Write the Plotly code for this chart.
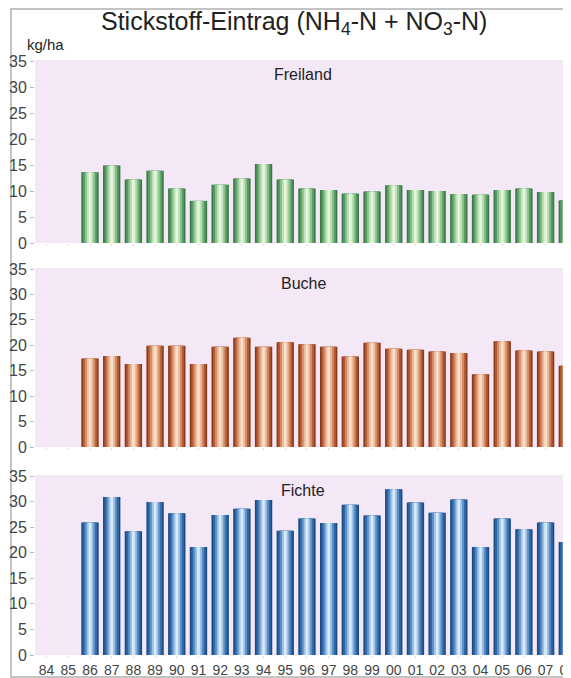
import plotly.graph_objects as go
from plotly.subplots import make_subplots

years = ['84', '85', '86', '87', '88', '89', '90', '91', '92', '93', '94', '95', '96',
         '97', '98', '99', '00', '01', '02', '03', '04', '05', '06', '07', '08']

freiland = [None, None, 13.6, 14.9, 12.2, 13.9, 10.5, 8.1, 11.2, 12.4, 15.2, 12.2, 10.5,
            10.2, 9.5, 9.9, 11.1, 10.2, 10.0, 9.4, 9.3, 10.2, 10.5, 9.8, 8.2]
buche = [None, None, 17.4, 17.9, 16.3, 19.9, 19.9, 16.3, 19.7, 21.5, 19.7, 20.6, 20.2,
         19.7, 17.8, 20.5, 19.3, 19.1, 18.8, 18.5, 14.3, 20.8, 19.0, 18.8, 16.0]
fichte = [None, None, 25.9, 30.9, 24.2, 29.9, 27.7, 21.1, 27.4, 28.6, 30.3, 24.3, 26.7,
          25.8, 29.4, 27.3, 32.4, 29.8, 27.8, 30.4, 21.1, 26.7, 24.6, 25.9, 22.1]

panel_names = ['Freiland', 'Buche', 'Fichte']
panel_data = [freiland, buche, fichte]
panel_shades = [
    ['#3a7847', '#579a63', '#88c08b', '#bde0b7', '#e6f6de'],
    ['#8a381a', '#b35b35', '#d48a62', '#ecbb9b', '#f8e0cc'],
    ['#1b4a82', '#2f68a5', '#5b8fc8', '#9ec2e6', '#dcebf8'],
]
layer_widths = [0.8, 0.66, 0.48, 0.3, 0.12]

# the page body adds an 8px offset, so the figure is drawn 8px smaller
OFF = 8
W, H = 571 - OFF, 678 - OFF
L = 35 - OFF
fig = make_subplots(rows=3, cols=1, shared_xaxes=False, vertical_spacing=0.03)

# pixel rows of each panel (top, bottom) in figure coordinates
panel_px = [(60 - OFF, 243 - OFF), (268 - OFF, 447 - OFF), (475 - OFF, 655 - OFF)]

for r, (vals, shades) in enumerate(zip(panel_data, panel_shades), start=1):
    for w, c in zip(layer_widths, shades):
        fig.add_trace(go.Bar(x=years, y=vals, width=w, marker=dict(color=c, line=dict(width=0)),
                             showlegend=False, hoverinfo='skip'), row=r, col=1)

fig.update_layout(barmode='overlay', width=W, height=H,
                  margin=dict(l=L, r=0, t=0, b=0, autoexpand=False),
                  paper_bgcolor='white', plot_bgcolor='#f4e8f7',
                  font=dict(family='Liberation Sans, Arial, sans-serif', color='#333'))

for i, (top, bot) in enumerate(panel_px):
    n = i + 1
    ykey = 'yaxis' if n == 1 else f'yaxis{n}'
    xkey = 'xaxis' if n == 1 else f'xaxis{n}'
    fig.layout[ykey].update(domain=[1 - bot / H, 1 - top / H], range=[0, 35.2],
                            tickvals=[0, 5, 10, 15, 20, 25, 30, 35], showgrid=False,
                            zeroline=False, showline=False, ticks='outside', ticklen=4,
                            tickcolor='#bbbbbb', automargin=False,
                            tickfont=dict(size=16, color='#444'))
    fig.layout[xkey].update(type='category', range=[-0.535, 24.17], showgrid=False,
                            zeroline=False, showline=False, ticks='outside', ticklen=2,
                            tickcolor='#dddddd', automargin=False,
                            showticklabels=(n == 3),
                            tickfont=dict(size=14, color='#444',
                                          family='Liberation Sans Narrow, Arial Narrow, Liberation Sans, sans-serif'))
    fig.add_annotation(text=panel_names[i], x=0.5, xref='paper',
                       y=1 - (top + 15) / H, yref='paper', showarrow=False,
                       font=dict(size=16, color='#222'), xanchor='center', yanchor='middle')

fig.add_annotation(text='Stickstoff-Eintrag (NH<sub>4</sub>-N + NO<sub>3</sub>-N)',
                   x=(294 - OFF - L) / (W - L), xref='paper', y=1 - (23 - OFF) / H, yref='paper',
                   showarrow=False, font=dict(size=25, color='#222'),
                   xanchor='center', yanchor='middle')
fig.add_annotation(text='kg/ha', x=(25 - OFF - L) / (W - L), xref='paper',
                   y=1 - (44 - OFF) / H, yref='paper',
                   showarrow=False, font=dict(size=15, color='#222'),
                   xanchor='left', yanchor='middle')

# outer frame
fig.add_shape(type='rect', xref='paper', yref='paper',
              x0=(11 - OFF - L) / (W - L), x1=1.05, y0=1 / H, y1=1 - 1 / H,
              line=dict(color='#b0b0b0', width=1.5), fillcolor='rgba(0,0,0,0)', layer='below')

fig.write_html('out.html')
